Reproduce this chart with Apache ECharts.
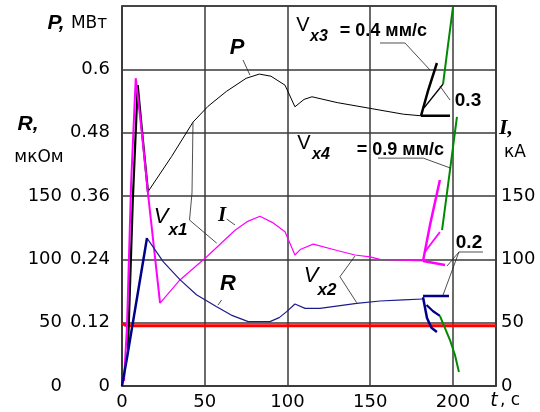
<!DOCTYPE html>
<html>
<head>
<meta charset="utf-8">
<script src="https://cdn.jsdelivr.net/npm/echarts@6/dist/echarts.min.js"></script>
<style>
  html, body { margin: 0; padding: 0; background: #fff; }
  #chart { width: 540px; height: 412px; }
</style>
</head>
<body>
<div id="chart"></div>
<script>
// t, c -> P, МВт
const pSpike = [[3.5, 0.06], [6.5, 0.35], [9.5, 0.57], [12.5, 0.47], [15.7, 0.368]];
const pMain = [[15.7, 0.368], [30, 0.435], [42.9, 0.5], [52, 0.53], [63, 0.558], [75, 0.583], [83, 0.591],
  [90, 0.587], [98.5, 0.57], [104.5, 0.529], [110, 0.543], [114.8, 0.548], [130, 0.537], [150, 0.526],
  [170, 0.515], [180.7, 0.512]];
const pFlat = [[180.7, 0.512], [198.2, 0.512]];
const pUp = [[180.7, 0.512], [185, 0.56], [190.3, 0.612]];
const pMid = [[182.5, 0.527], [194, 0.572]];
const pGreen = [[194, 0.572], [197, 0.646], [200, 0.718]];

// t, c -> I, кА
const iSpike = [[1.2, 4], [3, 46.6], [5.5, 160], [8.3, 243], [12, 200], [15.7, 152], [23, 65.5]];
const iMain = [[23, 65.5], [35, 83.7], [51.2, 102], [68.3, 123], [76, 130], [83.4, 134], [91, 129],
  [98.5, 121.8], [104.5, 103.4], [108, 108], [115.6, 112], [130, 107], [140.8, 103.4], [149.8, 102],
  [155.9, 100], [170, 99.3], [181.9, 98.7]];
const iFlat = [[181.9, 98.7], [195.2, 95.5]];
const iUp = [[181.9, 98.7], [186.1, 127], [192.1, 162.6]];
const iMid = [[183, 105.8], [192.1, 121.6]];
const iGreen = [[193.4, 123], [198.2, 170.5], [202.4, 212.4]];

// t, c -> R, мкОм
const rRise = [[0, 0], [3, 22], [15.1, 116.8]];
const rMain = [[15.1, 116.8], [25, 98], [35, 84], [45, 72], [57.2, 62.6], [66, 56], [76.3, 50.8],
  [89.4, 50.8], [95, 54], [99.5, 58.7], [104.5, 64.7], [110.6, 61.3], [119.6, 61.3], [141.8, 65.3],
  [155.9, 67.1], [170, 68], [181.9, 68.7]];
const rFlat = [[181.9, 71.1], [197.6, 71.1]];
const rDown = [[181.9, 70], [184.3, 53.7], [187, 46], [190.3, 42.6]];
const rMid = [[184, 64], [188, 59], [192.1, 55.3]];
const rGreen = [[192.1, 55.3], [198.2, 36.3], [201.2, 24.5], [203.6, 11]];

const rLimit = [[0, 49.5], [2, 48], [4, 47.5], [226, 47.5]];

// leader lines (t, c ; I/R units)
const leaders = [
  [[73.1, 257.4], [77.3, 245.5]],
  [[42.9, 208.2], [42.3, 152.4], [40.8, 131.0], [57.2, 112.8]],
  [[63.3, 131.8], [68.3, 127.1]],
  [[60.2, 67.9], [58.0, 63.9]],
  [[131.7, 86.3], [140.8, 102.6]],
  [[131.7, 86.3], [141.8, 65.8]],
  [[155.9, 270.8], [171, 270.8], [186.1, 249.5]],
  [[198.2, 225.8], [192.1, 236.8]],
  [[154.7, 179.9], [182.1, 179.9], [198.6, 172.0]],
  [[203.6, 105.8], [218.1, 105.8]],
  [[203.6, 105.8], [196.4, 94.7]],
  [[203.6, 105.8], [194, 71.8]]
];

const tTicks = [0, 50, 100, 150, 200];

const FONT = 'DejaVu Sans';
const gridColor = '#3a3a3a';

function line(data, color, width, yAxisIndex) {
  return {
    type: 'line', data: data, yAxisIndex: yAxisIndex, showSymbol: false, symbol: 'none',
    silent: true, lineStyle: { color: color, width: width }
  };
}

const series = [
  line(rLimit, '#ff0000', 3, 1),
  line(pMain, '#000', 1, 0),
  line(pSpike, '#000', 2.2, 0),
  line(pFlat, '#000', 2.5, 0),
  line(pUp, '#000', 2.5, 0),
  line(pMid, '#000', 1.5, 0),
  line(pGreen, '#008a00', 2, 0),
  line(iMain, '#ff00ff', 1.2, 2),
  line(iSpike, '#ff00ff', 2, 2),
  line(iFlat, '#ff00ff', 2.5, 2),
  line(iUp, '#ff00ff', 2.5, 2),
  line(iMid, '#ff00ff', 1.8, 2),
  line(iGreen, '#008a00', 2, 2),
  line(rMain, '#1c1c8c', 1.2, 1),
  line(rRise, '#00008b', 2.5, 1),
  line(rFlat, '#00008b', 2.5, 1),
  line(rDown, '#00008b', 2.5, 1),
  line(rMid, '#00008b', 2.2, 1),
  line(rGreen, '#008a00', 2, 1)
];
leaders.forEach(function (l) { series.push(line(l, '#222', 0.8, 2)); });

function txt(x, y, text, font, align) {
  return {
    type: 'text', x: x, y: y, silent: true,
    style: {
      text: text, font: font, fill: '#000',
      textAlign: align || 'center', textVerticalAlign: 'middle',
      align: align || 'center', verticalAlign: 'middle'
    }
  };
}

const chart = echarts.init(document.getElementById('chart'));
chart.setOption({
  animation: false,
  grid: { left: 122, right: 44, top: 6, bottom: 26, show: true, borderColor: gridColor, borderWidth: 1.5, backgroundColor: 'transparent' },
  xAxis: {
    type: 'value', min: 0, max: 226, interval: 50,
    axisLine: { show: true, lineStyle: { color: gridColor, width: 1.5 } },
    axisTick: { show: false },
    splitLine: { show: true, lineStyle: { color: gridColor, width: 1.5 } },
    axisLabel: {
      margin: 7, color: '#000', fontFamily: FONT, fontSize: 18,
      formatter: function (v) { return tTicks.indexOf(v) >= 0 ? String(v) : ''; }
    }
  },
  yAxis: [
    {
      type: 'value', position: 'left', min: 0, max: 0.72, interval: 0.12,
      axisLine: { show: true, lineStyle: { color: gridColor, width: 1.5 } },
      axisTick: { show: false },
      splitLine: { show: true, lineStyle: { color: gridColor, width: 1.5 } },
      axisLabel: {
        margin: 12, color: '#000', fontFamily: FONT, fontSize: 18,
        formatter: function (v) { return v > 0.7 ? '' : String(Math.round(v * 100) / 100); }
      }
    },
    {
      type: 'value', position: 'left', offset: 52, min: 0, max: 300, interval: 50,
      axisLine: { show: false }, axisTick: { show: false }, splitLine: { show: false },
      axisLabel: {
        margin: 8, color: '#000', fontFamily: FONT, fontSize: 18,
        formatter: function (v) { return v > 150 ? '' : String(v); }
      }
    },
    {
      type: 'value', position: 'right', min: 0, max: 300, interval: 50,
      axisLine: { show: true, lineStyle: { color: gridColor, width: 1.5 } },
      axisTick: { show: false }, splitLine: { show: false },
      axisLabel: {
        margin: 5, color: '#000', fontFamily: FONT, fontSize: 18,
        formatter: function (v) { return v > 150 ? '' : String(v); }
      }
    }
  ],
  series: series,
  graphic: [
    txt(56, 23, 'P,', 'italic bold 21px Liberation Sans'),
    txt(89, 24, 'МВт', '17px DejaVu Sans'),
    txt(28, 124, 'R,', 'italic bold 21px Liberation Sans'),
    txt(39, 158, 'мкОм', '17px DejaVu Sans'),
    txt(506, 128, 'I,', 'italic bold 22px Liberation Serif'),
    txt(515, 153, 'кА', '17px DejaVu Sans'),
    txt(494, 401, 't', 'italic 19px DejaVu Sans'),
    txt(510, 401, ', c', '17px DejaVu Sans'),
    txt(237, 48, 'P', 'italic bold 22px Liberation Sans'),
    txt(222, 216, 'I', 'italic bold 21px Liberation Serif'),
    txt(228, 284, 'R', 'italic bold 22px Liberation Sans'),
    txt(161, 217, 'V', 'italic 22px Liberation Sans'),
    txt(178, 230, 'x1', 'italic bold 17px Liberation Sans'),
    txt(311, 276, 'V', 'italic 22px Liberation Sans'),
    txt(327, 290, 'x2', 'italic bold 17px Liberation Sans'),
    txt(303, 25, 'V', '20px Liberation Sans'),
    txt(319, 37, 'x3', 'italic bold 16px Liberation Sans'),
    txt(427, 31, '= 0.4 мм/с', 'bold 18px Liberation Sans', 'right'),
    txt(304, 143, 'V', '20px Liberation Sans'),
    txt(321, 155, 'x4', 'italic bold 16px Liberation Sans'),
    txt(444, 150, '= 0.9 мм/с', 'bold 18px Liberation Sans', 'right'),
    txt(468, 101, '0.3', 'bold 19px Liberation Sans'),
    txt(469, 243, '0.2', 'bold 19px Liberation Sans')
  ]
});
</script>
</body>
</html>
